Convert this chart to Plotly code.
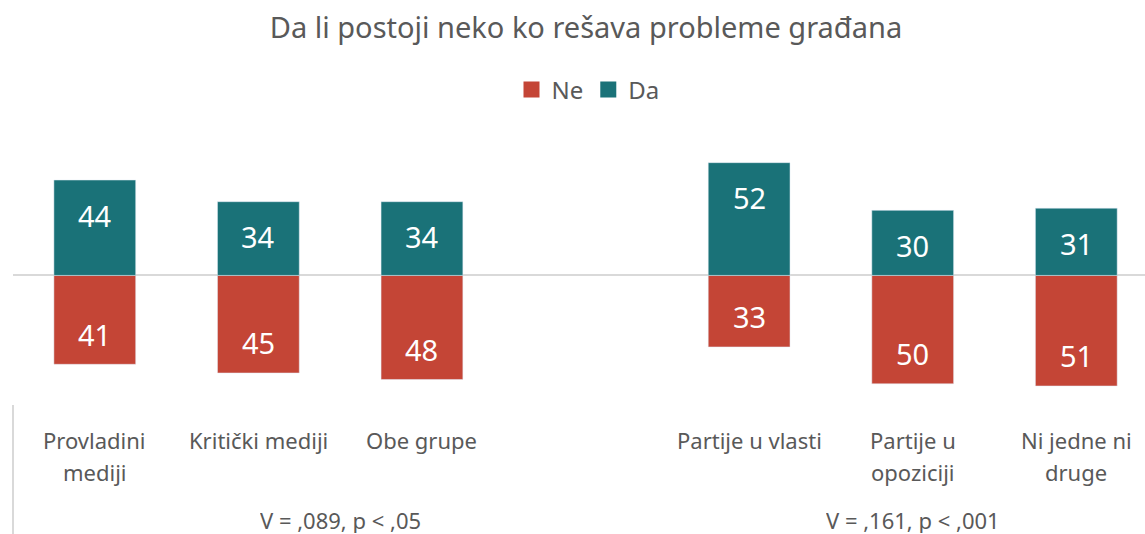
import plotly.graph_objects as go

# ---- data ----
categories = ["Provladini<br>mediji", "Kritički mediji", "Obe grupe",
              "Partije u vlasti", "Partije u<br>opoziciji", "Ni jedne ni<br>druge"]
x_pos = [0, 1, 2, 4, 5, 6]
ne_values = [41, 45, 48, 33, 50, 51]
da_values = [44, 34, 34, 52, 30, 31]
series_names = ["Ne", "Da"]
group_labels = ["V = ,089, p < ,05", "V = ,161, p < ,001"]
group_centers = [1.5, 5]

RED = "#C44536"
TEAL = "#1A7278"
GRAY_TXT = "#595959"
FONT = "Noto Sans"

W, H = 1145, 534
PLOT_TOP, PLOT_BOT = 130, 400
PLOT_H = PLOT_BOT - PLOT_TOP


def py(pixel_y):
    return (PLOT_BOT - pixel_y) / PLOT_H


fig = go.Figure()
fig.add_trace(go.Bar(name=series_names[0], x=x_pos, y=[-v for v in ne_values],
                     marker_color=RED, width=0.5, hoverinfo="skip", showlegend=False))
fig.add_trace(go.Bar(name=series_names[1], x=x_pos, y=da_values,
                     marker_color=TEAL, width=0.5, hoverinfo="skip", showlegend=False))
# legend entries with larger square symbols
for nm, col in zip(series_names, [RED, TEAL]):
    fig.add_trace(go.Scatter(name=nm, x=[None], y=[None], mode="markers",
                             marker=dict(symbol="square", size=17, color=col),
                             showlegend=True, hoverinfo="skip"))

ann = []
for xp, v in zip(x_pos, da_values):
    ann.append(dict(x=xp, y=v, xref="x", yref="y", text=str(v), showarrow=False,
                    yshift=-35, yanchor="middle",
                    font=dict(family=FONT, size=29, color="white")))
for xp, v in zip(x_pos, ne_values):
    ann.append(dict(x=xp, y=-v, xref="x", yref="y", text=str(v), showarrow=False,
                    yshift=30, yanchor="middle",
                    font=dict(family=FONT, size=29, color="white")))
for xp, lab in zip(x_pos, categories):
    for i, line in enumerate(lab.split("<br>")):
        ann.append(dict(x=xp, y=py(440 + 32 * i), xref="x", yref="paper", text=line,
                        showarrow=False, yanchor="middle",
                        font=dict(family=FONT, size=22, color=GRAY_TXT)))
for xc, g in zip(group_centers, group_labels):
    ann.append(dict(x=xc, y=py(520), xref="x", yref="paper", text=g, showarrow=False,
                    yanchor="middle", height=26, valign="middle",
                    font=dict(family=FONT, size=22, color=GRAY_TXT)))

fig.update_layout(
    width=W, height=H,
    barmode="relative",
    plot_bgcolor="white", paper_bgcolor="white",
    margin=dict(l=13, r=0, t=PLOT_TOP, b=H - PLOT_BOT, autoexpand=False),
    title=dict(text="Da li postoji neko ko rešava probleme građana", x=586 / W,
               xanchor="center", xref="container", y=1 - 28 / H, yanchor="middle",
               yref="container", font=dict(family=FONT, size=29, color=GRAY_TXT)),
    legend=dict(orientation="h", x=588 / W, xref="container", xanchor="center",
                y=1 - 90 / H, yref="container", yanchor="middle",
                font=dict(family=FONT, size=24, color=GRAY_TXT), traceorder="normal",
                itemsizing="trace"),
    xaxis=dict(range=[-0.5, 6.42], showticklabels=False, showgrid=False,
               zeroline=False, showline=False, fixedrange=True),
    yaxis=dict(range=[-57.47, 67.07], showticklabels=False, showgrid=False,
               zeroline=True, zerolinecolor="#D9D9D9", zerolinewidth=2,
               layer="above traces", fixedrange=True),
    annotations=ann,
    shapes=[dict(type="line", xref="paper", yref="paper", x0=0, x1=0,
                 y0=py(405), y1=py(534), line=dict(color="#D9D9D9", width=2))],
)

fig.write_html("out.html", config={"displayModeBar": False},
               post_script="document.body.style.margin='0px';")
